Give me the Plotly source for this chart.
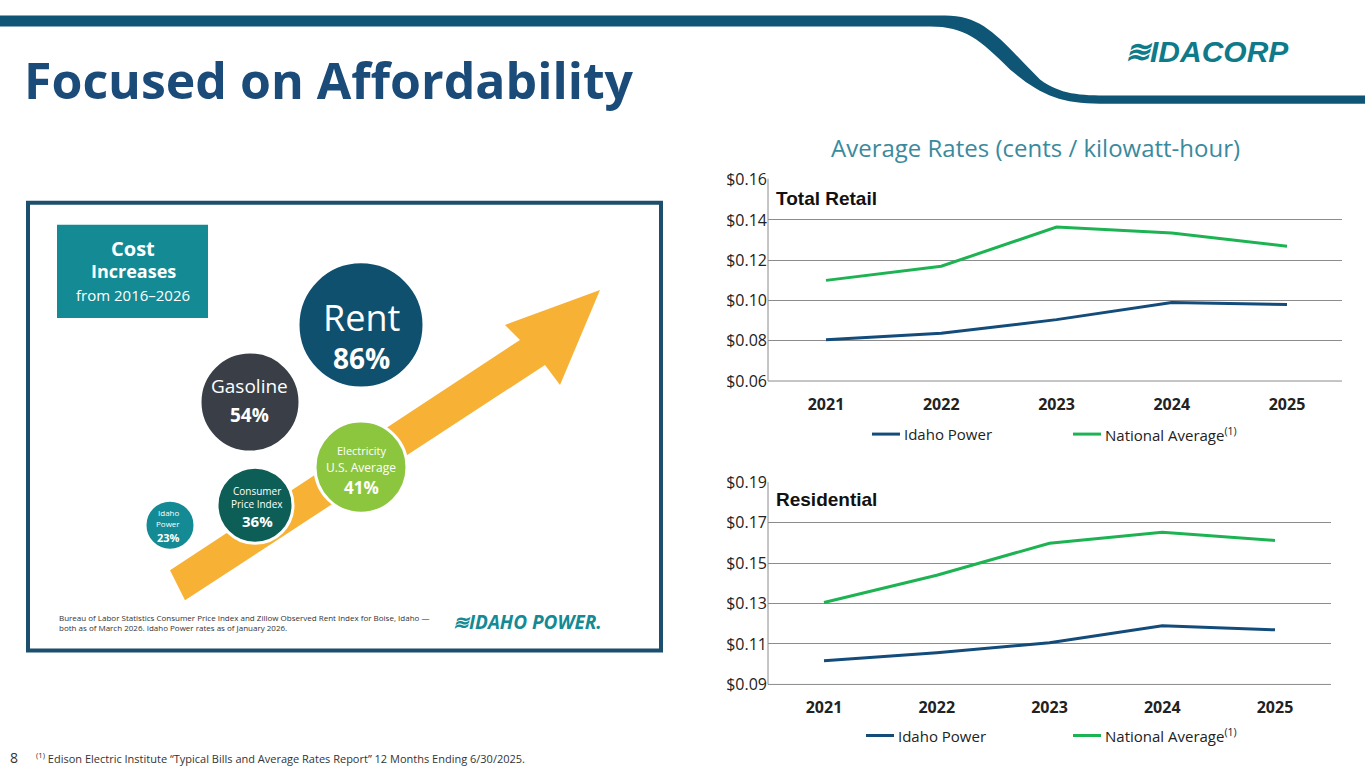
import plotly.graph_objects as go

years = [2021, 2022, 2023, 2024, 2025]
retail_idaho = [0.0805, 0.0837, 0.0905, 0.0990, 0.0980]
retail_nat = [0.1100, 0.1170, 0.1365, 0.1335, 0.1270]
res_idaho = [0.1017, 0.1057, 0.1106, 0.1190, 0.1170]
res_nat = [0.1305, 0.1440, 0.1598, 0.1652, 0.1612]
retail_ticks = [0.06, 0.08, 0.10, 0.12, 0.14, 0.16]
res_ticks = [0.09, 0.11, 0.13, 0.15, 0.17, 0.19]

W, H = 1365, 768
def px(x): return x / W
def py(y):
    yd = (y - 11.5) / 0.97
    return 1 - yd / H

BLUE = "#134c7a"
GREEN = "#1db353"
fig = go.Figure()
fig.add_trace(go.Scatter(x=years, y=retail_idaho, mode="lines", line=dict(color=BLUE, width=3), xaxis="x", yaxis="y", showlegend=False))
fig.add_trace(go.Scatter(x=years, y=retail_nat, mode="lines", line=dict(color=GREEN, width=3), xaxis="x", yaxis="y", showlegend=False))
fig.add_trace(go.Scatter(x=years, y=res_idaho, mode="lines", line=dict(color=BLUE, width=3), xaxis="x2", yaxis="y2", showlegend=False))
fig.add_trace(go.Scatter(x=years, y=res_nat, mode="lines", line=dict(color=GREEN, width=3), xaxis="x2", yaxis="y2", showlegend=False))

axfont = dict(family="Open Sans", size=16, color="#222")
xfont = dict(family="Open Sans", size=16, color="#222")
def xax(l, r, a, lo, hi):
    return dict(domain=[px(l), px(r)], anchor=a, range=[lo, hi], tickvals=years,
                ticktext=[f"<b>{y}</b>" for y in years], showgrid=False, zeroline=False,
                showline=False, ticks="", tickfont=xfont, ticklabelstandoff=12, fixedrange=True)
def yax(t, b, a, ticks):
    return dict(domain=[py(b), py(t)], anchor=a, range=[ticks[0], ticks[-1]], tickvals=ticks,
                ticktext=[f"${v:.2f}" for v in ticks], showgrid=True, gridcolor="#8c8c8c",
                gridwidth=1, zeroline=False, showline=False, ticks="", tickfont=axfont, fixedrange=True)

def rng(l, r, x0, x1):
    s = (x1 - x0) / 4
    return 2021 - (x0 - l) / s, 2025 + (r - x1) / s
lo1, hi1 = rng(768, 1342, 826, 1287)
lo2, hi2 = rng(768, 1331, 824, 1275)

shapes = []
annotations = []
shapes.append(dict(type="path", xref="paper", yref="paper",
    path=f"M 0 {py(16)} L {px(945)} {py(16)} C {px(985)} {py(16)} {px(1000)} {py(40)} {px(1040)} {py(80)} C {px(1060)} {py(95)} {px(1080)} {py(96)} {px(1110)} {py(96)} L {px(1365)} {py(96)} L {px(1365)} {py(104)} L {px(1100)} {py(104)} C {px(1060)} {py(104)} {px(1040)} {py(95)} {px(1010)} {py(70)} C {px(980)} {py(40)} {px(965)} {py(27)} {px(930)} {py(27)} L 0 {py(27)} Z",
    fillcolor="#0f5575", line=dict(width=0), layer="above"))
for (l, r, b) in [(768, 1342, 381), (768, 1331, 684)]:
    shapes.append(dict(type="line", xref="paper", yref="paper", x0=px(l), x1=px(r), y0=py(b), y1=py(b), line=dict(color="#8c8c8c", width=1)))
    shapes.append(dict(type="line", xref="paper", yref="paper", x0=px(l), x1=px(l), y0=py(b), y1=py(b - 202), line=dict(color="#8c8c8c", width=1)))
for (ly, xi, xn) in [(434, 872, 1073), (735, 866, 1073)]:
    shapes.append(dict(type="line", xref="paper", yref="paper", x0=px(xi), x1=px(xi + 28), y0=py(ly), y1=py(ly), line=dict(color=BLUE, width=3)))
    shapes.append(dict(type="line", xref="paper", yref="paper", x0=px(xn), x1=px(xn + 28), y0=py(ly), y1=py(ly), line=dict(color=GREEN, width=3)))
    annotations.append(dict(x=px(xi + 30), y=py(ly), text="Idaho Power", xanchor="left", yanchor="middle", font=dict(family="Open Sans", size=15, color="#222")))
    annotations.append(dict(x=px(xn + 30), y=py(ly), text="National Average<sup>(1)</sup>", xanchor="left", yanchor="middle", font=dict(family="Open Sans", size=15, color="#222")))

annotations += [
    dict(x=px(22), y=py(80), text="<b>Focused on Affordability</b>", xanchor="left", yanchor="middle", font=dict(family="Open Sans", size=50, color="#1b4b78")),
    dict(x=px(1207), y=py(52), text="<b><i>≋IDACORP</i></b>", xanchor="center", yanchor="middle", font=dict(family="Liberation Sans", size=30, color="#0f7a8a")),
    dict(x=px(1035), y=py(148), text="Average Rates (cents / kilowatt-hour)", xanchor="center", yanchor="middle", font=dict(family="Open Sans", size=24, color="#3a8a9e")),
    dict(x=px(774), y=py(199), text="<b>Total Retail</b>", xanchor="left", yanchor="middle", font=dict(family="Liberation Sans", size=19, color="#111")),
    dict(x=px(774), y=py(499), text="<b>Residential</b>", xanchor="left", yanchor="middle", font=dict(family="Liberation Sans", size=19, color="#111")),
    dict(x=px(8), y=py(757), text="8", xanchor="left", yanchor="middle", font=dict(family="Open Sans", size=14, color="#333")),
    dict(x=px(34), y=py(757), text="<sup>(1)</sup> Edison Electric Institute “Typical Bills and Average Rates Report” 12 Months Ending 6/30/2025.", xanchor="left", yanchor="middle", font=dict(family="Open Sans", size=11, color="#333")),
]

shapes.append(dict(type="rect", xref="paper", yref="paper", x0=px(28), x1=px(661), y0=py(203), y1=py(650), line=dict(color="#1c4e6e", width=4), fillcolor="white"))
shapes.append(dict(type="rect", xref="paper", yref="paper", x0=px(57), x1=px(208), y0=py(225), y1=py(318), line=dict(width=0), fillcolor="#138a94"))
shapes.append(dict(type="path", xref="paper", yref="paper",
    path=f"M {px(170)} {py(570)} L {px(520)} {py(340)} L {px(505)} {py(325)} L {px(600)} {py(290)} L {px(560)} {py(385)} L {px(545)} {py(365)} L {px(185)} {py(600)} Z",
    fillcolor="#f7b236", line=dict(width=0)))
def circ(cx, cy, r, col):
    shapes.append(dict(type="circle", xref="paper", yref="paper", x0=px(cx - r), x1=px(cx + r), y0=py(cy - r), y1=py(cy + r), fillcolor=col, line=dict(color="white", width=3)))
circ(361, 325, 63, "#0f506f")
circ(250, 402, 50, "#3a3f47")
circ(361, 467, 46, "#8cc63f")
circ(255, 505, 38, "#0c5e57")
circ(170, 525, 25, "#138a94")
def t(x, y, s, size, col="white", anchor="center"):
    annotations.append(dict(x=px(x), y=py(y), text=s, xanchor=anchor, yanchor="middle", align=anchor if anchor != "center" else "center", font=dict(family="Open Sans", size=size, color=col)))
t(133, 249, "<b>Cost</b>", 20); t(133, 271, "<b>Increases</b>", 18); t(133, 295, "from 2016–2026", 15)
t(361, 318, "Rent", 36); t(361, 358, "<b>86%</b>", 28)
t(250, 386, "Gasoline", 19); t(250, 415, "<b>54%</b>", 19)
t(361, 450, "Electricity", 11); t(361, 467, "U.S. Average", 12); t(361, 487, "<b>41%</b>", 17)
t(257, 491, "Consumer", 10); t(257, 504, "Price Index", 10); t(257, 521, "<b>36%</b>", 15)
t(168, 512, "Idaho", 8); t(168, 523, "Power", 8); t(168, 537, "<b>23%</b>", 11)
t(57, 622, "Bureau of Labor Statistics Consumer Price Index and Zillow Observed Rent Index for Boise, Idaho —<br>both as of March 2026. Idaho Power rates as of January 2026.", 8, "#333", "left")
t(527, 622, "<b><i>≋IDAHO POWER.</i></b>", 19, "#138a94")

fig.update_layout(
    width=W, height=H, margin=dict(l=0, r=0, t=0, b=0), paper_bgcolor="white", plot_bgcolor="white",
    xaxis=xax(768, 1342, "y", lo1, hi1), yaxis=yax(180, 381, "x", retail_ticks),
    xaxis2=xax(768, 1331, "y2", lo2, hi2), yaxis2=yax(482, 684, "x2", res_ticks),
    shapes=shapes, annotations=[dict(a, xref="paper", yref="paper", showarrow=False) for a in annotations],
)
fig.write_html("out.html", config={"displayModeBar": False},
               post_script="document.body.style.margin='0';document.body.style.overflow='hidden';")
